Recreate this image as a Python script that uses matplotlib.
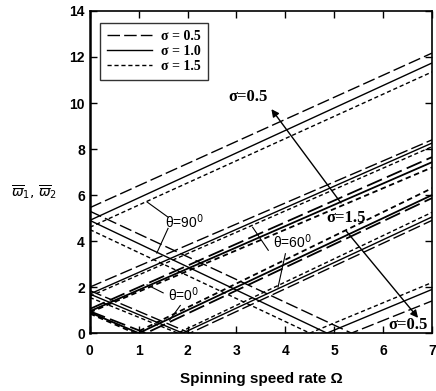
import numpy as np
import matplotlib
matplotlib.use('Agg')
import matplotlib.pyplot as plt

# sigma values and their line styles (long dash / solid / short dash)
sigmas = ['0.5', '1.0', '1.5']
styles = [(0, (9, 3)), '-', (0, (3, 2))]

# theta = 90 deg, rising branch: value at Omega=0 and Omega=7
a_up = [[5.45, 12.17], [4.9, 11.74], [4.6, 11.35]]
# theta = 90 deg, falling branch (Omega points, values)
a_dn_x = [[0, 5.35, 7], [0, 4.85, 7], [0, 4.5, 7]]
a_dn_y = [[5.3, 0, 1.4], [4.9, 0, 1.9], [4.5, 0, 2.2]]

# theta = 60 deg
b_up = [[2.0, 8.4], [1.7, 8.26], [1.6, 8.1]]
d_dn_x = [[0, 2.05, 7], [0, 1.9, 7], [0, 1.8, 7]]
d_dn_y = [[1.85, 0, 4.9], [1.7, 0, 5.05], [1.55, 0, 5.25]]

# theta = 0 deg
c_up = [[1.05, 7.65], [0.95, 7.43], [0.9, 7.2]]
e_dn_x = [[0, 1.15, 7], [0, 1.0, 7], [0, 0.92, 7]]
e_dn_y = [[0.95, 0, 5.87], [0.9, 0, 6.0], [0.85, 0, 6.3]]

ends = [0, 7]

fig = plt.figure(figsize=(4.36, 3.91), dpi=100)
ax = fig.add_axes([0.206, 0.148, 0.785, 0.824])

for i in range(3):
    ls = styles[i]
    ax.plot(ends, a_up[i], color='black', ls=ls, lw=1.0, label='σ = ' + sigmas[i])
    ax.plot(a_dn_x[i], a_dn_y[i], color='black', ls=ls, lw=1.0)
    ax.plot(ends, b_up[i], color='black', ls=ls, lw=1.0)
    ax.plot(d_dn_x[i], d_dn_y[i], color='black', ls=ls, lw=1.0)
    ax.plot(ends, c_up[i], color='black', ls=ls, lw=1.3)
    ax.plot(e_dn_x[i], e_dn_y[i], color='black', ls=ls, lw=1.3)

ax.set_xlim(0, 7)
ax.set_ylim(0, 14)
ax.set_xticks(range(0, 8))
ax.set_yticks(range(0, 15, 2))
ax.tick_params(direction='in', top=True, right=True, length=5, width=1)
for lab in ax.get_xticklabels() + ax.get_yticklabels():
    lab.set_fontweight('bold')
    lab.set_fontfamily('Liberation Sans')
    lab.set_fontsize(10)
ax.tick_params(axis='x', pad=8)
for sp in ax.spines.values():
    sp.set_linewidth(1.2)
ax.spines['left'].set_linewidth(1.8)

leg = ax.legend(loc='upper left', bbox_to_anchor=(0.01, 0.985), frameon=True,
                fancybox=False, edgecolor='black', handlelength=3.2,
                prop={'family': 'Liberation Serif', 'weight': 'bold', 'size': 10},
                borderpad=0.5, labelspacing=0.15, handletextpad=0.7)
leg.get_frame().set_linewidth(1.0)

serif = {'family': 'Liberation Serif', 'size': 12, 'weight': 'bold'}
sans = {'family': 'Liberation Sans', 'size': 10}

# sigma labels and arrows
ax.text(3.23, 10.26, 'σ=0.5', fontdict=serif, ha='center', va='center')
ax.annotate('', xy=(3.68, 9.83), xytext=(5.17, 5.56),
            arrowprops=dict(arrowstyle='-|>', color='black', lw=1.0, mutation_scale=11))
ax.text(5.25, 5.0, 'σ=1.5', fontdict=serif, ha='center', va='center')
ax.annotate('', xy=(6.75, 0.57), xytext=(5.2, 4.55),
            arrowprops=dict(arrowstyle='-|>', color='black', lw=1.0, mutation_scale=11))
ax.text(6.5, 0.35, 'σ=0.5', fontdict=serif, ha='center', va='center')

# theta labels with pointers
ax.text(1.94, 4.85, r'θ=90$^0$', fontdict=sans, ha='center', va='center')
ax.plot([1.6, 1.17], [5.04, 5.7], color='black', lw=0.8)
ax.plot([1.6, 1.37], [4.55, 3.48], color='black', lw=0.8)

ax.text(4.15, 3.96, r'θ=60$^0$', fontdict=sans, ha='center', va='center')
ax.plot([3.65, 3.33], [3.6, 4.6], color='black', lw=0.8)
ax.plot([4.0, 3.85], [3.45, 2.0], color='black', lw=0.8)

ax.text(1.92, 1.65, r'θ=0$^0$', fontdict=sans, ha='center', va='center')
ax.plot([1.5, 1.17], [1.75, 2.1], color='black', lw=0.8)
ax.plot([1.85, 1.63], [1.2, 0.56], color='black', lw=0.8)

ax.set_xlabel('Spinning speed rate Ω', fontfamily='Liberation Sans',
              fontweight='bold', fontsize=11, labelpad=10)
fig.text(0.025, 0.51, r'$\overline{\varpi}_1$, $\overline{\varpi}_2$',
         fontsize=10, ha='left', va='center')

fig.savefig('out.png', dpi=100)
